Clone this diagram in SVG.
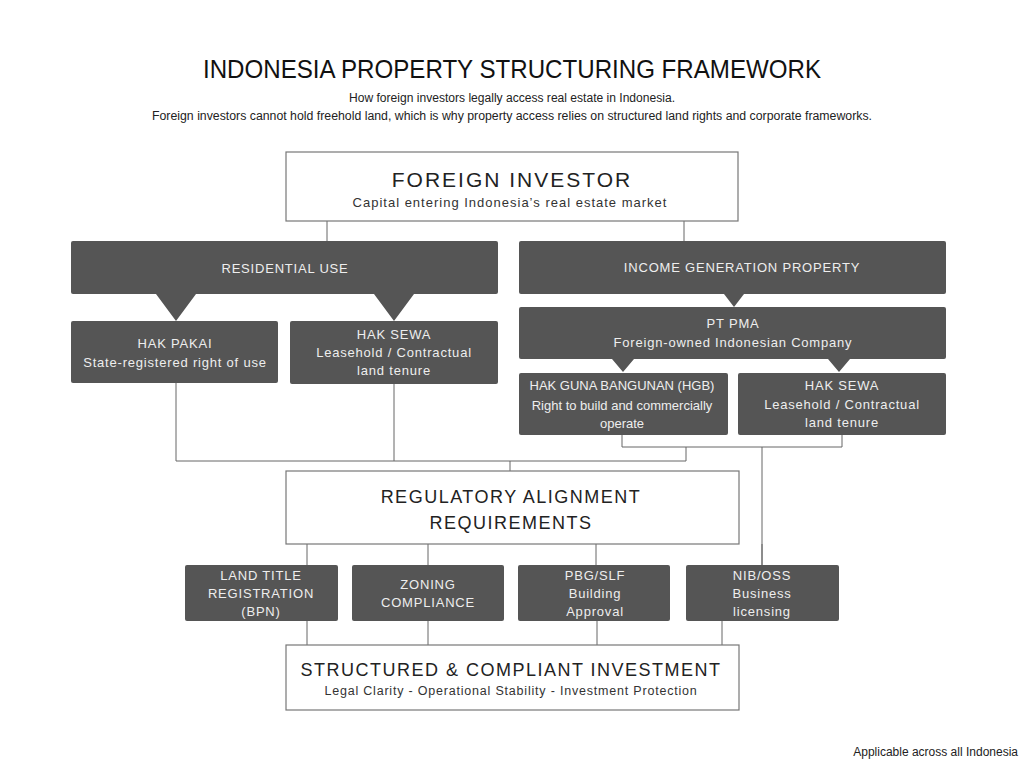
<svg xmlns="http://www.w3.org/2000/svg" width="1024" height="768" viewBox="0 0 1024 768">
<style>
text{font-family:"Liberation Sans",Arial,sans-serif;text-anchor:middle}
.w{fill:#fff;stroke:#777;stroke-width:1.2}
.d{fill:#555}
.dt{fill:#eee;font-size:13px;letter-spacing:0.8px}
.n{letter-spacing:0}
.bt{fill:#222}
.c{stroke:#666;stroke-width:1;fill:none}
</style>
<rect width="1024" height="768" fill="#fff"/>
<text x="512" y="78" font-size="25" fill="#111" textLength="618" lengthAdjust="spacingAndGlyphs">INDONESIA PROPERTY STRUCTURING FRAMEWORK</text>
<text x="512" y="102" font-size="12" fill="#222" textLength="326" lengthAdjust="spacingAndGlyphs">How foreign investors legally access real estate in Indonesia.</text>
<text x="512" y="120" font-size="12" fill="#222" textLength="720" lengthAdjust="spacingAndGlyphs">Foreign investors cannot hold freehold land, which is why property access relies on structured land rights and corporate frameworks.</text>
<g id="connectors" class="c">
<path d="M327 221V241M684 221V241"/>
<path d="M176 383V461M394 384V461M176 461H686V447M622 435V447H842V435M762 447V565M510 461V471"/>
<path d="M307 544V565M428 544V565M596 544V565M762 544V565"/>
<path d="M307 621V645M428 621V645M597 621V645M722 621V645"/>
</g>
<g id="foreign-investor"><rect class="w" x="286" y="152" width="452" height="69"/>
<text x="512" y="187" font-size="21" class="bt" letter-spacing="2">FOREIGN INVESTOR</text>
<text x="510" y="207" font-size="13" fill="#333" letter-spacing="1">Capital entering Indonesia’s real estate market</text></g>
<g id="residential"><rect class="d" x="71" y="241" width="427" height="53" rx="2"/>
<path class="d" d="M156 294L176 321L196 294ZM374 294L394 321L414 294Z"/>
<text class="dt" x="285" y="273">RESIDENTIAL USE</text></g>
<g id="hak-pakai"><rect class="d" x="71" y="321" width="207" height="62" rx="2"/>
<text class="dt" x="175" y="348">HAK PAKAI</text><text class="dt" x="175" y="367">State-registered right of use</text></g>
<g id="hak-sewa-res"><rect class="d" x="290" y="321" width="208" height="63" rx="2"/>
<text class="dt" x="394" y="339">HAK SEWA</text><text class="dt" x="394" y="357">Leasehold / Contractual</text><text class="dt" x="394" y="375">land tenure</text></g>
<g id="income"><rect class="d" x="519" y="241" width="427" height="53" rx="2"/>
<path class="d" d="M724 294L734 307L744 294Z"/>
<text class="dt" x="742" y="272">INCOME GENERATION PROPERTY</text></g>
<g id="pt-pma"><rect class="d" x="519" y="307" width="427" height="52" rx="2"/>
<path class="d" d="M612 359L623 372L634 359ZM828 359L839 372L850 359Z"/>
<text class="dt" x="733" y="328">PT PMA</text><text class="dt" x="733" y="347">Foreign-owned Indonesian Company</text></g>
<g id="hgb"><rect class="d" x="519" y="373" width="209" height="62" rx="2"/>
<text class="dt n" x="622" y="390">HAK GUNA BANGUNAN (HGB)</text><text class="dt n" x="622" y="410">Right to build and commercially</text><text class="dt n" x="622" y="428">operate</text></g>
<g id="hak-sewa-inc"><rect class="d" x="738" y="373" width="208" height="62" rx="2"/>
<text class="dt" x="842" y="390">HAK SEWA</text><text class="dt" x="842" y="409">Leasehold / Contractual</text><text class="dt" x="842" y="427">land tenure</text></g>
<g id="regulatory"><rect class="w" x="286" y="471" width="453" height="73"/>
<text x="511" y="503" font-size="18" class="bt" letter-spacing="1.5">REGULATORY ALIGNMENT</text>
<text x="511" y="529" font-size="18" class="bt" letter-spacing="1.5">REQUIREMENTS</text></g>
<g id="land-title"><rect class="d" x="185" y="565" width="153" height="56" rx="2"/>
<text class="dt" x="261" y="580">LAND TITLE</text><text class="dt" x="261" y="598">REGISTRATION</text><text class="dt" x="261" y="616">(BPN)</text></g>
<g id="zoning"><rect class="d" x="352" y="565" width="152" height="56" rx="2"/>
<text class="dt" x="428" y="589">ZONING</text><text class="dt" x="428" y="607">COMPLIANCE</text></g>
<g id="pbg"><rect class="d" x="518" y="565" width="152" height="56" rx="2"/>
<text class="dt" x="595" y="580">PBG/SLF</text><text class="dt" x="595" y="598">Building</text><text class="dt" x="595" y="616">Approval</text></g>
<g id="nib"><rect class="d" x="686" y="565" width="153" height="56" rx="2"/>
<text class="dt" x="762" y="580">NIB/OSS</text><text class="dt" x="762" y="598">Business</text><text class="dt" x="762" y="616">licensing</text></g>
<g id="structured"><rect class="w" x="286" y="645" width="453" height="65"/>
<text x="511" y="676" font-size="18" class="bt" letter-spacing="1.5">STRUCTURED &amp; COMPLIANT INVESTMENT</text>
<text x="511" y="695" font-size="12.5" fill="#333" letter-spacing="0.8">Legal Clarity - Operational Stability - Investment Protection</text></g>
<text x="1018" y="756" font-size="12" fill="#222" style="text-anchor:end">Applicable across all Indonesia</text>
</svg>
